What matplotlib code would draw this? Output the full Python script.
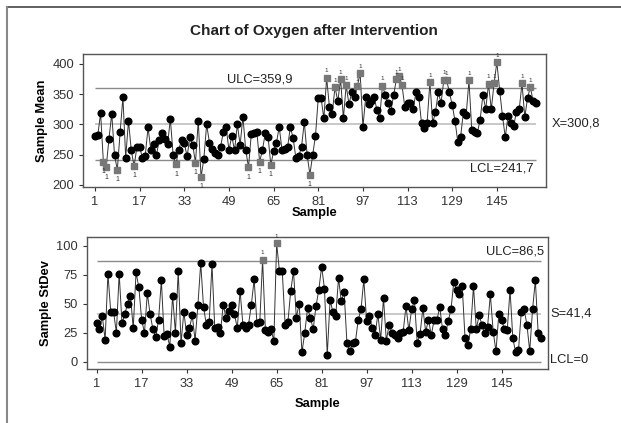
import numpy as np
import matplotlib.pyplot as plt

plt.rcParams['font.family'] = ['Liberation Sans', 'DejaVu Sans']

# Sample means (Xbar chart)
means = [281, 282, 319, 238, 229, 276, 318, 249, 225, 287,
         345, 245, 306, 257, 231, 262, 263, 244, 248, 295,
         258, 268, 249, 274, 286, 276, 267, 309, 249, 234,
         258, 274, 269, 247, 279, 266, 237, 306, 213, 243,
         300, 270, 259, 252, 250, 263, 288, 295, 257, 281,
         257, 300, 266, 313, 258, 229, 284, 285, 287, 238,
         258, 285, 280, 233, 256, 269, 296, 258, 259, 262,
         296, 277, 244, 247, 263, 304, 250, 217, 250, 281,
         344, 344, 310, 377, 329, 318, 362, 338, 375, 310,
         365, 333, 354, 345, 363, 385, 296, 345, 333, 339,
         346, 324, 311, 364, 349, 335, 322, 349, 375, 380,
         365, 329, 336, 336, 325, 353, 346, 302, 294, 303,
         370, 302, 321, 353, 336, 374, 373, 353, 332, 306,
         271, 280, 320, 316, 373, 291, 288, 286, 308, 349,
         325, 367, 325, 368, 403, 356, 314, 279, 314, 303,
         297, 321, 325, 368, 312, 344, 362, 338, 336]

# Sample standard deviations (S chart)
stdevs = [33, 28, 39, 19, 76, 43, 43, 25, 76, 33,
          41, 50, 57, 29, 77, 64, 36, 25, 59, 41,
          28, 21, 36, 70, 22, 24, 13, 57, 25, 78,
          16, 43, 23, 29, 40, 18, 49, 85, 47, 32,
          34, 84, 29, 30, 25, 49, 38, 44, 49, 41,
          29, 61, 32, 29, 32, 49, 71, 33, 34, 88,
          27, 26, 28, 18, 102, 78, 78, 32, 34, 61,
          78, 38, 50, 8, 25, 46, 38, 28, 48, 62,
          82, 63, 6, 53, 43, 39, 72, 52, 60, 16,
          9, 16, 17, 36, 45, 71, 35, 39, 29, 23,
          41, 19, 55, 18, 32, 25, 23, 20, 25, 26,
          48, 27, 45, 53, 16, 24, 46, 26, 36, 23,
          36, 36, 47, 28, 23, 35, 45, 69, 62, 58,
          65, 20, 14, 28, 65, 28, 40, 32, 25, 30,
          58, 26, 9, 41, 36, 28, 27, 62, 20, 8,
          10, 43, 45, 32, 9, 45, 70, 25, 20]

# control limits
x_ucl, x_cl, x_lcl = 359.9, 300.8, 241.7
s_ucl, s_cl, s_lcl = 86.5, 41.4, 0.0

xticks = [1, 17, 33, 49, 65, 81, 97, 113, 129, 145]

samples = np.arange(1, len(means) + 1)
means = np.array(means, dtype=float)
stdevs = np.array(stdevs, dtype=float)

fs = 9.3

fig = plt.figure(figsize=(6.21, 4.23), dpi=100)
fig.patch.set_facecolor('white')

# thin frame on the top and left of the picture
fig.add_artist(plt.Line2D([7 / 621, 1], [1 - 7 / 423, 1 - 7 / 423], color='#444444', lw=1.2))
fig.add_artist(plt.Line2D([7 / 621, 7 / 621], [0, 1 - 7 / 423], color='#888888', lw=1.5))

fig.text(0.505, 1 - 31 / 423, 'Chart of Oxygen after Intervention', ha='center', va='center',
         fontsize=11, fontweight='bold', color='#222222')


def control_panel(ax, y, ucl, cl, lcl, xlim, ylim, xpad):
    ax.hlines([ucl, lcl], 1, len(y), colors='#8a8a8a', lw=1.0, zorder=1)
    ax.hlines(cl, 1, len(y), colors='#c8c8c8', lw=1.4, zorder=1)
    ax.plot(samples, y, '-', color='#333333', lw=0.7, zorder=2)
    out = (y > ucl) | (y < lcl)
    ax.plot(samples[~out], y[~out], 'o', color='black', ms=4.8, zorder=3)
    ax.plot(samples[out], y[out], 's', color='#777777', ms=4.0, zorder=3)
    # test 1 flags
    for xi, yi in zip(samples[out], y[out]):
        if yi < lcl:
            ax.annotate('1', (xi, yi), xytext=(0, -7), textcoords='offset points',
                        ha='center', va='center', fontsize=5, color='#333333')
        else:
            ax.annotate('1', (xi, yi), xytext=(0, 5), textcoords='offset points',
                        ha='center', va='center', fontsize=4.5, color='#333333')
    ax.set_xlim(*xlim)
    ax.set_ylim(*ylim)
    ax.set_xticks(xticks)
    ax.tick_params(labelsize=fs, colors='#333333', length=3, direction='out')
    for sp in ax.spines.values():
        sp.set_color('#555555')
        sp.set_linewidth(1.0)
    ax.set_xlabel('Sample', fontsize=fs, fontweight='bold', labelpad=xpad)


# Xbar chart
ax1 = fig.add_axes([83 / 621, 1 - 187 / 423, 463 / 621, 133 / 423])
control_panel(ax1, means, x_ucl, x_cl, x_lcl, (-3.3, 162.6), (196.5, 416.5), -1)
ax1.set_yticks([200, 250, 300, 350, 400])
ax1.set_ylabel('Sample Mean', fontsize=fs, fontweight='bold', labelpad=3)
ax1.text(60, x_ucl + 5, 'ULC=359,9', ha='center', va='bottom', fontsize=fs, color='#222222')
ax1.text(158, x_lcl - 5, 'LCL=241,7', ha='right', va='top', fontsize=fs, color='#222222')
ax1.text(1.012, (x_cl - 196.5) / (416.5 - 196.5), 'X=300,8', transform=ax1.transAxes,
         ha='left', va='center', fontsize=fs, color='#222222')

# S chart
ax2 = fig.add_axes([86.7 / 621, 1 - 369 / 423, 461.3 / 621, 132 / 423])
control_panel(ax2, stdevs, s_ucl, s_cl, s_lcl, (-2.55, 161.5), (-6.3, 107.5), 6)
ax2.set_yticks([0, 25, 50, 75, 100])
ax2.set_ylabel('Sample StDev', fontsize=fs, fontweight='bold', labelpad=3)
ax2.text(160, s_ucl + 3, 'ULC=86,5', ha='right', va='bottom', fontsize=fs, color='#222222')
ax2.text(1.005, (s_cl + 6.3) / 113.8, 'S=41,4', transform=ax2.transAxes,
         ha='left', va='center', fontsize=fs, color='#222222')
ax2.text(1.005, (s_lcl + 6.3) / 113.8 + 0.01, 'LCL=0', transform=ax2.transAxes,
         ha='left', va='center', fontsize=fs, color='#222222')

fig.savefig('out.png', dpi=100)
